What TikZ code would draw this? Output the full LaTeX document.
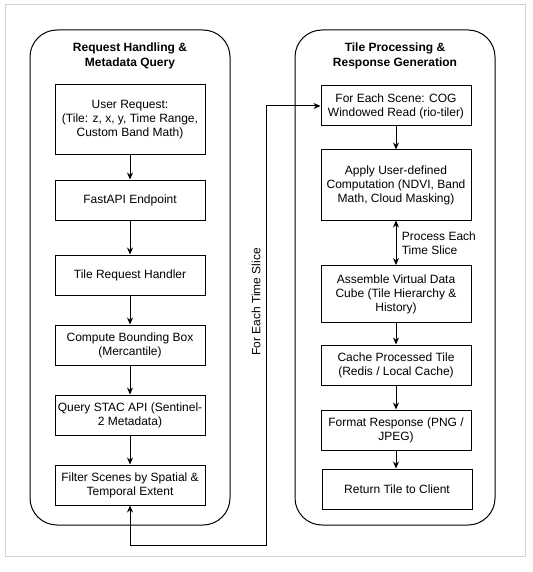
\documentclass[tikz,border=0pt]{standalone}
\usepackage{fontspec}
\setmainfont{Liberation Sans}
\usetikzlibrary{arrows.meta}
\begin{document}
\begin{tikzpicture}[x=1pt,y=-1pt,
  txt/.style={font=\fontsize{12}{14}\selectfont},
  box/.style={txt,draw,line width=1pt,minimum width=150pt,align=center,inner sep=2pt},
  container/.style={draw,line width=1pt,rounded corners=27pt,minimum width=200pt,minimum height=495pt},
  title/.style={font=\bfseries\fontsize{12}{15}\selectfont,align=center},
  arr/.style={-{Stealth[length=7pt,width=6pt]},line width=1pt},
  darr/.style={{Stealth[length=7pt,width=6pt]}-{Stealth[length=7pt,width=6pt]},line width=1pt}]
\useasboundingbox (0,0) rectangle (532,572);
\node[draw=black!18,line width=1pt,minimum width=520pt,minimum height=551pt] (frame) at (265,280.5) {};
% containers
\node[container] (lc) at (130,277.5) {};
\node[container] (rc) at (395,277.5) {};
\node[title] (lt) at (130,56) {Request Handling \&\\Metadata Query};
\node[title] (rt) at (395,56) {Tile Processing \&\\Response Generation};
% left column
\node[box,minimum height=70pt] (ur) at (130,120) {User Request:\\(Tile: z, x, y, Time Range,\\Custom Band Math)};
\node[box,minimum height=40pt] (fa) at (130,200) {FastAPI Endpoint};
\node[box,minimum height=40pt] (trh) at (130,275) {Tile Request Handler};
\node[box,minimum height=40pt] (cbb) at (130,345) {Compute Bounding Box\\(Mercantile)};
\node[box,minimum height=40pt] (qs) at (130,415) {Query STAC API (Sentinel-\\2 Metadata)};
\node[box,minimum height=40pt] (fs) at (130,485) {Filter Scenes by Spatial \&\\Temporal Extent};
% right column
\node[box,minimum height=40pt] (fes) at (396,106) {For Each Scene: COG\\Windowed Read (rio-tiler)};
\node[box,minimum height=70pt] (auc) at (396,185) {Apply User-defined\\Computation (NDVI, Band\\Math, Cloud Masking)};
\node[box,minimum height=57pt] (avd) at (396,294) {Assemble Virtual Data\\Cube (Tile Hierarchy \&\\History)};
\node[box,minimum height=40pt] (cpt) at (396,365) {Cache Processed Tile\\(Redis / Local Cache)};
\node[box,minimum height=40pt] (fr) at (396,430) {Format Response (PNG /\\JPEG)};
\node[box,minimum height=40pt] (rtc) at (397,489) {Return Tile to Client};
% left arrows
\draw[arr] (ur) -- (fa);
\draw[arr] (fa) -- (trh);
\draw[arr] (trh) -- (cbb);
\draw[arr] (cbb) -- (qs);
\draw[arr] (qs) -- (fs);
% right arrows
\draw[arr] (fes) -- (auc);
\draw[darr] (auc) -- (avd) node[midway,right=2pt,txt,align=left] (pel) {Process Each\\Time Slice};
\draw[arr] (avd) -- (cpt);
\draw[arr] (cpt) -- (fr);
\draw[arr] (fr.south) -- (fr.south |- rtc.north);
% loop
\coordinate (lb) at (130,545);
\coordinate (rb) at (266,545);
\draw[darr] (fs.south) -- (lb) -- (rb) |- (fes.west);
\node[txt,rotate=90] (lbl) at (256,302) {For Each Time Slice};
\end{tikzpicture}
\end{document}
